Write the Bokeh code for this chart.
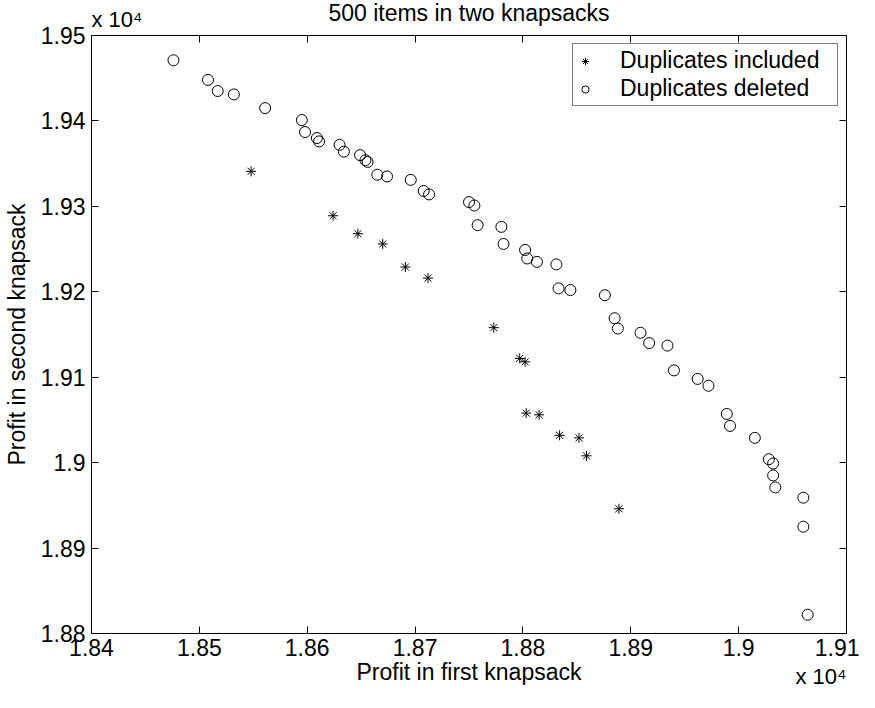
from bokeh.plotting import figure
from bokeh.models import (Range1d, FixedTicker, LinearAxis, Title, Legend, LegendItem,
                          CustomLabelingPolicy)
from bokeh.embed import file_html
from bokeh.resources import INLINE

# ---- data (profit values) ----
incl_x = [18548, 18624, 18647, 18670, 18691, 18712, 18773, 18797, 18802,
          18803, 18815, 18834, 18852, 18859, 18889]
incl_y = [19341, 19289, 19268, 19256, 19229, 19216, 19158, 19122, 19118,
          19058, 19056, 19032, 19029, 19008, 18946]

del_x = [18476, 18508, 18517, 18532, 18561, 18595, 18598, 18609, 18611, 18630,
         18634, 18649, 18654, 18656, 18665, 18674, 18696, 18708, 18713, 18750,
         18755, 18758, 18780, 18782, 18802, 18804, 18813, 18831, 18833, 18844,
         18876, 18885, 18888, 18909, 18917, 18934, 18940, 18962, 18972, 18989,
         18992, 19015, 19028, 19032, 19032, 19034, 19060, 19060, 19064]
del_y = [19471, 19448, 19435, 19431, 19415, 19401, 19387, 19380, 19376, 19372,
         19364, 19360, 19354, 19352, 19337, 19335, 19331, 19318, 19314, 19305,
         19301, 19278, 19276, 19256, 19249, 19239, 19235, 19232, 19204, 19202,
         19196, 19169, 19157, 19152, 19140, 19137, 19108, 19098, 19090, 19057,
         19043, 19029, 19004, 18999, 18985, 18971, 18959, 18925, 18822]

x_ticks = [18400, 18500, 18600, 18700, 18800, 18900, 19000, 19100]
x_tick_labels = ["1.84", "1.85", "1.86", "1.87", "1.88", "1.89", "1.9", "1.91"]
y_ticks = [18800, 18900, 19000, 19100, 19200, 19300, 19400, 19500]
y_tick_labels = ["1.88", "1.89", "1.9", "1.91", "1.92", "1.93", "1.94", "1.95"]
exponent_text = "x 10\u2074"

FONT = "Liberation Sans"

p = figure(width=859, height=692, output_backend="svg", toolbar_location=None,
           x_range=Range1d(18400, 19100), y_range=Range1d(18800, 19500),
           min_border_left=89, min_border_right=13, min_border_top=35,
           min_border_bottom=59, background_fill_color="white",
           border_fill_color="white")
p.outline_line_color = "black"
p.outline_line_width = 1
p.grid.visible = False

no_labels = CustomLabelingPolicy(code="return new Set()")

def style_axis(ax, ticks, labels, show_labels=True):
    ax.ticker = FixedTicker(ticks=ticks)
    ax.major_label_overrides = {t: l for t, l in zip(ticks, labels)}
    ax.minor_tick_line_color = None
    ax.major_tick_in = 7
    ax.major_tick_out = 0
    ax.major_tick_line_color = "black"
    ax.axis_line_color = "black"
    ax.major_label_text_font = FONT
    ax.major_label_text_color = "black"
    ax.axis_label_text_font = FONT
    ax.axis_label_text_font_size = "23px"
    ax.axis_label_text_font_style = "normal"
    ax.axis_label_text_color = "black"
    if show_labels:
        ax.major_label_text_font_size = "23px"
    else:
        ax.major_label_text_font_size = "1px"
        ax.major_label_standoff = 0
        ax.major_label_policy = no_labels

xa = p.xaxis[0]
style_axis(xa, x_ticks, x_tick_labels)
xa.axis_label = "Profit in first knapsack"
xa.major_label_standoff = 5
xa.axis_label_standoff = 0

ya = p.yaxis[0]
style_axis(ya, y_ticks, y_tick_labels)
ya.axis_label = "Profit in second knapsack"
ya.major_label_standoff = 6
ya.axis_label_standoff = 8

top_ax = LinearAxis()
style_axis(top_ax, x_ticks, x_tick_labels, show_labels=False)
p.add_layout(top_ax, "above")
right_ax = LinearAxis()
style_axis(right_ax, y_ticks, y_tick_labels, show_labels=False)
p.add_layout(right_ax, "right")

# exponent notes (MATLAB style "x 10^4")
exp_top = Title(text=exponent_text, align="left", text_font=FONT,
                text_font_size="22px", text_font_style="normal",
                text_color="black", standoff=0)
p.add_layout(exp_top, "above")
exp_bottom = Title(text=exponent_text, align="right", vertical_align="top",
                   text_font=FONT, text_font_size="22px", text_font_style="normal",
                   text_color="black", standoff=-48)
p.add_layout(exp_bottom, "below")

p.title.text = "500 items in two knapsacks"
p.title.align = "center"
p.title.text_font = FONT
p.title.text_font_size = "23px"
p.title.text_font_style = "normal"
p.title.text_color = "black"
p.title.standoff = -43

r_incl = p.scatter(incl_x, incl_y, marker="asterisk", size=10,
                   line_color="black", line_width=1)
r_del = p.scatter(del_x, del_y, marker="circle", size=11, fill_color=None,
                  line_color="black", line_width=1)

legend = Legend(items=[LegendItem(label="Duplicates included", renderers=[r_incl]),
                       LegendItem(label="Duplicates deleted", renderers=[r_del])],
                location="top_right", margin=8, padding=3, spacing=1,
                glyph_width=18, glyph_height=26, label_height=26,
                label_standoff=26, label_width=214,
                label_text_font=FONT, label_text_font_size="23px",
                label_text_color="black",
                border_line_color="black", border_line_width=1,
                background_fill_color="white", background_fill_alpha=1.0)
p.add_layout(legend, "center")

open("out.html", "w").write(file_html(p, INLINE))
